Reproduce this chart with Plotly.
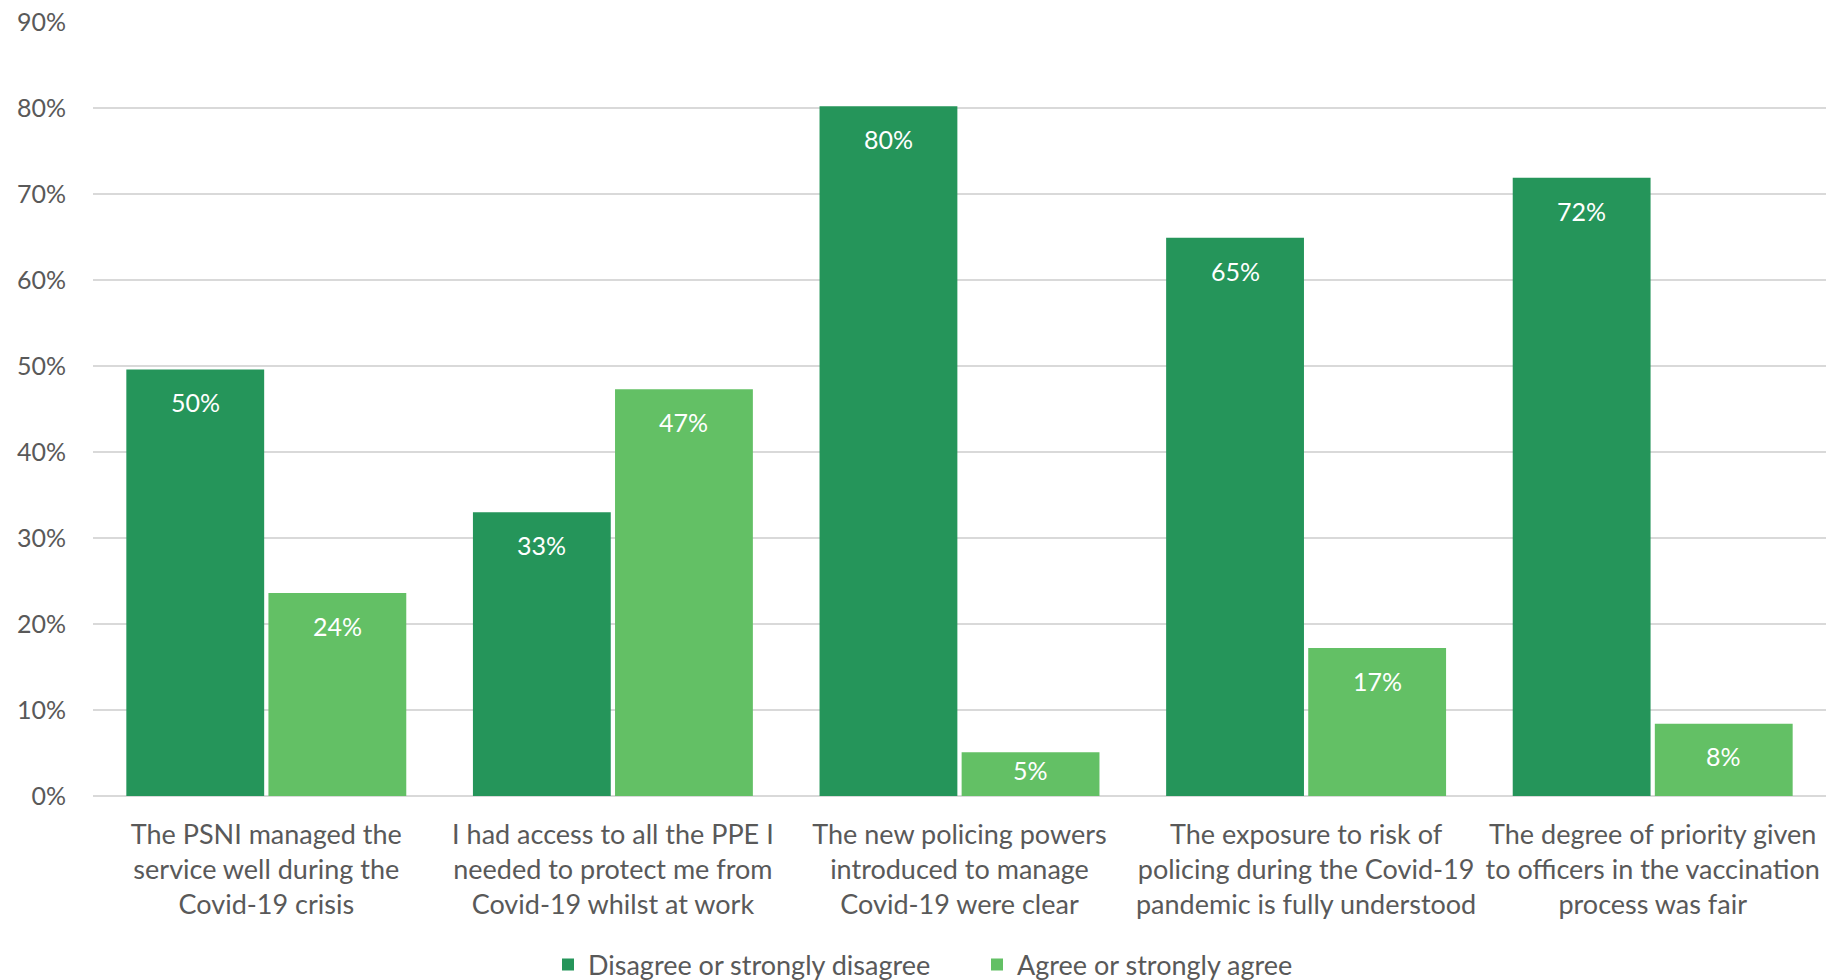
import plotly.graph_objects as go

# Survey statements (x-axis categories)
categories = [
    "The PSNI managed the<br>service well during the<br>Covid-19 crisis",
    "I had access to all the PPE I<br>needed to protect me from<br>Covid-19 whilst at work",
    "The new policing powers<br>introduced to manage<br>Covid-19 were clear",
    "The exposure to risk of<br>policing during the Covid-19<br>pandemic is fully understood",
    "The degree of priority given<br>to officers in the vaccination<br>process was fair",
]

# Percentage of respondents per response group
disagree = [49.6, 33.0, 80.2, 64.9, 71.9]
agree = [23.6, 47.3, 5.1, 17.2, 8.4]

series_names = ["Disagree or strongly disagree", "Agree or strongly agree"]
series_colors = ["#25955A", "#63C065"]

FONT = "Lato"
TEXT_COLOR = "#595959"
FS_SMALL = 25
FS_LARGE = 27

W, H = 1828, 980
plot_left, plot_right = 93, 1826
plot_top, plot_bottom = 22, 796
Y_MAX = 90

fig = go.Figure()
for name, vals, col in zip(series_names, [disagree, agree], series_colors):
    fig.add_trace(go.Bar(
        x=categories, y=vals, name=name,
        marker=dict(color=col, line=dict(width=0)),
        hoverinfo="skip",
    ))

# Value labels placed just inside the top of each bar
cat_px = (plot_right - plot_left) / len(categories)
px_per_unit = (plot_bottom - plot_top) / Y_MAX
bargap, bargroupgap = 0.18, 0.03
slot = cat_px * (1 - bargap) / 2
for offset_sign, vals in ((-1, disagree), (1, agree)):
    for cat, v in zip(categories, vals):
        bar_px = v * px_per_unit
        fig.add_annotation(
            x=cat, y=v, xref="x", yref="y",
            text=f"{v:.0f}%", showarrow=False,
            xshift=offset_sign * slot / 2,
            yshift=-min(33, bar_px / 2 - 4),
            yanchor="middle", xanchor="center",
            font=dict(family=FONT, size=FS_SMALL, color="white"),
        )

plot_h = plot_bottom - plot_top
fig.update_layout(
    width=W, height=H,
    margin=dict(l=plot_left, r=W - plot_right, t=plot_top, b=H - plot_bottom,
                autoexpand=False),
    paper_bgcolor="white", plot_bgcolor="white",
    barmode="group", bargap=bargap, bargroupgap=bargroupgap,
    font=dict(family=FONT, size=FS_SMALL, color=TEXT_COLOR),
    showlegend=True,
    legend=dict(
        orientation="h", x=(548 - plot_left) / (plot_right - plot_left),
        xanchor="left",
        y=-(965 - plot_bottom) / plot_h, yanchor="middle",
        entrywidth=384, entrywidthmode="pixels",
        font=dict(family=FONT, size=FS_LARGE, color=TEXT_COLOR),
        itemclick=False, itemdoubleclick=False,
    ),
    xaxis=dict(
        showgrid=False, showline=False, ticks="", automargin=False,
        tickfont=dict(family=FONT, size=FS_LARGE, color=TEXT_COLOR),
        ticklabelstandoff=20,
    ),
    yaxis=dict(
        range=[0, Y_MAX], dtick=10, ticksuffix="%", automargin=False,
        showgrid=True, gridcolor="#D9D9D9", gridwidth=2,
        zeroline=True, zerolinecolor="#D9D9D9", zerolinewidth=2,
        showline=False, ticks="",
        tickfont=dict(family=FONT, size=FS_SMALL, color=TEXT_COLOR),
        ticklabelstandoff=26,
    ),
)

fig.write_html("out.html")
